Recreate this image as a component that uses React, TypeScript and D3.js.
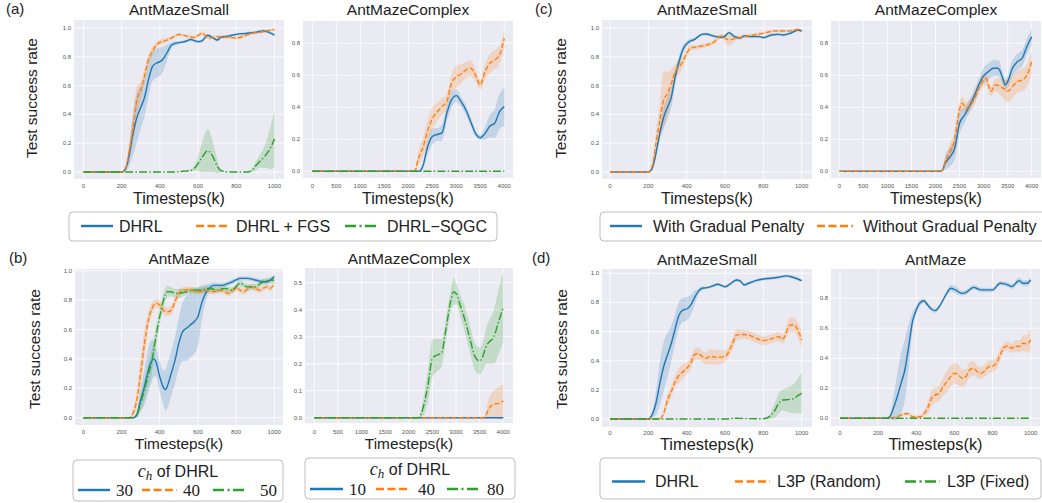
import React from "react";
import * as d3 from "d3";

type Pt = [number, number, number]; // [timestep, mean, spread]

const BLUE = "#1f77b4";
const ORANGE = "#ff7f0e";
const GREEN = "#2ca02c";
const FONT = "'Liberation Sans', Arial, sans-serif";
const SERIF = "'Liberation Serif', 'Times New Roman', serif";

const DASHED = "5,2.2";
const DASHDOT = "8,2.2,1.5,2.2";

const ticks1k = [0, 200, 400, 600, 800, 1000];
const ticks4k = [0, 500, 1000, 1500, 2000, 2500, 3000, 3500, 4000];
const yTicks10 = [0, 0.2, 0.4, 0.6, 0.8, 1.0];
const yTicks08 = [0, 0.2, 0.4, 0.6, 0.8];
const yTicks05 = [0, 0.1, 0.2, 0.3, 0.4, 0.5];

// (a) AntMazeSmall
const a1Dhrl: Pt[] = [[0,0,0],[200,0,0],[210,0.005,0.005],[230,0.06,0.04],[260,0.27,0.15],[280,0.38,0.17],[300,0.45,0.15],[320,0.52,0.13],[340,0.64,0.12],[360,0.73,0.1],[380,0.755,0.1],[400,0.766,0.1],[420,0.79,0.08],[440,0.835,0.05],[460,0.88,0.02],[480,0.893,0.015],[500,0.898,0.01],[540,0.91,0.01],[560,0.92,0.01],[600,0.905,0.01],[620,0.91,0.01],[650,0.95,0.01],[680,0.93,0.01],[700,0.917,0.01],[720,0.935,0.01],[760,0.944,0.01],[800,0.956,0.01],[850,0.963,0.01],[900,0.97,0.01],[940,0.98,0.01],[970,0.97,0.01],[1000,0.951,0.01]];
const a1Fgs: Pt[] = [[0,0,0],[200,0,0],[220,0.02,0.02],[240,0.15,0.06],[260,0.31,0.1],[280,0.5,0.1],[300,0.57,0.06],[320,0.67,0.05],[340,0.78,0.04],[360,0.835,0.03],[380,0.88,0.02],[400,0.9,0.02],[440,0.917,0.015],[480,0.944,0.01],[500,0.956,0.01],[540,0.944,0.01],[580,0.935,0.01],[620,0.963,0.015],[660,0.93,0.01],[700,0.94,0.01],[760,0.935,0.01],[800,0.93,0.01],[840,0.944,0.01],[880,0.963,0.01],[920,0.97,0.01],[960,0.98,0.01],[1000,0.99,0.01]];
const a1Sqgc: Pt[] = [[0,0,0],[480,0,0],[520,0.005,0.003],[560,0.01,0.005],[590,0.04,0.03],[620,0.1,0.1],[650,0.148,0.15],[680,0.1,0.1],[700,0.04,0.05],[720,0.01,0.01],[760,0,0],[860,0,0],[880,0.01,0.01],[900,0.04,0.03],[920,0.07,0.04],[950,0.11,0.08],[980,0.17,0.15],[1000,0.23,0.2]];

// (a) AntMazeComplex
const a2Dhrl: Pt[] = [[0,0,0],[2200,0,0],[2250,0.005,0.005],[2300,0.03,0.02],[2400,0.15,0.05],[2500,0.217,0.05],[2600,0.23,0.04],[2700,0.24,0.05],[2800,0.36,0.05],[2900,0.446,0.05],[3000,0.473,0.04],[3100,0.435,0.03],[3200,0.383,0.03],[3300,0.31,0.03],[3400,0.237,0.02],[3500,0.21,0.015],[3600,0.237,0.04],[3700,0.283,0.07],[3800,0.3,0.09],[3900,0.373,0.11],[4000,0.404,0.12]];
const a2Fgs: Pt[] = [[0,0,0],[2100,0,0],[2150,0.01,0.01],[2200,0.07,0.04],[2300,0.144,0.06],[2400,0.248,0.07],[2500,0.33,0.07],[2600,0.37,0.06],[2700,0.404,0.05],[2800,0.435,0.05],[2900,0.55,0.06],[3000,0.59,0.07],[3100,0.608,0.06],[3200,0.633,0.05],[3300,0.644,0.05],[3400,0.6,0.04],[3500,0.54,0.03],[3600,0.625,0.05],[3700,0.675,0.06],[3800,0.696,0.06],[3900,0.727,0.06],[4000,0.83,0.06]];
const a2Sqgc: Pt[] = [[0,0,0],[4000,0,0]];

// (b) AntMaze, c_h
const b1C30: Pt[] = [[0,0,0],[260,0,0],[280,0.02,0.02],[300,0.12,0.08],[320,0.21,0.12],[340,0.32,0.15],[360,0.39,0.14],[370,0.4,0.12],[380,0.38,0.1],[400,0.28,0.1],[420,0.204,0.12],[430,0.19,0.14],[440,0.215,0.15],[460,0.3,0.15],[480,0.39,0.16],[500,0.506,0.17],[520,0.585,0.2],[540,0.608,0.22],[560,0.63,0.22],[580,0.653,0.22],[600,0.687,0.2],[620,0.78,0.12],[640,0.846,0.06],[660,0.88,0.03],[680,0.9,0.02],[720,0.9,0.015],[760,0.914,0.015],[800,0.937,0.015],[820,0.948,0.015],[860,0.948,0.015],[900,0.937,0.015],[940,0.925,0.015],[960,0.925,0.015],[1000,0.96,0.015]];
const b1C40: Pt[] = [[0,0,0],[240,0,0],[260,0.03,0.02],[280,0.12,0.06],[300,0.3,0.1],[320,0.5,0.1],[340,0.66,0.06],[360,0.744,0.04],[380,0.778,0.03],[400,0.766,0.03],[420,0.73,0.03],[440,0.72,0.03],[460,0.73,0.03],[480,0.79,0.03],[500,0.846,0.03],[520,0.868,0.02],[560,0.873,0.02],[600,0.857,0.02],[640,0.868,0.02],[680,0.857,0.02],[720,0.868,0.02],[760,0.846,0.02],[800,0.88,0.02],[840,0.857,0.02],[880,0.89,0.02],[920,0.868,0.02],[960,0.89,0.02],[980,0.88,0.02],[1000,0.914,0.02]];
const b1C50: Pt[] = [[0,0,0],[260,0,0],[280,0.02,0.02],[300,0.1,0.05],[320,0.19,0.07],[340,0.29,0.08],[360,0.39,0.08],[380,0.55,0.07],[400,0.687,0.06],[420,0.8,0.05],[440,0.857,0.04],[460,0.857,0.03],[480,0.846,0.03],[500,0.846,0.03],[540,0.857,0.02],[580,0.868,0.02],[620,0.868,0.02],[660,0.88,0.02],[700,0.868,0.02],[740,0.88,0.02],[780,0.868,0.02],[820,0.914,0.02],[860,0.89,0.02],[900,0.89,0.02],[940,0.925,0.02],[1000,0.937,0.02]];

// (b) AntMazeComplex, c_h
const b2C10: Pt[] = [[0,0,0],[4000,0,0]];
const b2C40: Pt[] = [[0,0,0],[3550,0,0],[3600,0.002,0.002],[3650,0.016,0.02],[3700,0.035,0.04],[3800,0.05,0.05],[3900,0.053,0.06],[4000,0.062,0.062]];
const b2C80: Pt[] = [[0,0,0],[2200,0,0],[2250,0.01,0.01],[2300,0.035,0.03],[2400,0.115,0.06],[2500,0.22,0.07],[2600,0.232,0.06],[2700,0.24,0.05],[2750,0.288,0.04],[2800,0.343,0.04],[2900,0.442,0.04],[2950,0.467,0.05],[3000,0.46,0.04],[3100,0.41,0.04],[3200,0.355,0.05],[3300,0.288,0.05],[3400,0.226,0.05],[3500,0.21,0.05],[3550,0.22,0.05],[3650,0.27,0.07],[3700,0.28,0.08],[3800,0.3,0.1],[3900,0.355,0.12],[4000,0.41,0.13]];

// (c) gradual penalty
const c1With: Pt[] = [[0,0,0],[200,0,0],[220,0.025,0.01],[240,0.13,0.03],[260,0.27,0.05],[280,0.38,0.07],[300,0.45,0.08],[320,0.52,0.07],[340,0.66,0.05],[360,0.766,0.04],[380,0.85,0.03],[400,0.89,0.02],[420,0.91,0.015],[440,0.92,0.01],[460,0.94,0.01],[480,0.956,0.01],[500,0.958,0.01],[540,0.944,0.01],[580,0.935,0.01],[600,0.944,0.01],[620,0.968,0.01],[650,0.94,0.01],[680,0.93,0.01],[700,0.944,0.01],[740,0.94,0.01],[780,0.94,0.01],[800,0.933,0.01],[840,0.951,0.01],[880,0.956,0.01],[900,0.951,0.01],[940,0.963,0.01],[980,0.986,0.01],[1000,0.98,0.01]];
const c1Without: Pt[] = [[0,0,0],[200,0,0],[220,0.04,0.02],[240,0.2,0.08],[260,0.36,0.12],[280,0.5,0.2],[300,0.546,0.15],[320,0.616,0.1],[340,0.697,0.05],[360,0.73,0.05],[380,0.766,0.04],[400,0.824,0.03],[420,0.86,0.02],[460,0.87,0.015],[500,0.88,0.015],[540,0.9,0.015],[580,0.944,0.015],[620,0.917,0.04],[660,0.93,0.015],[700,0.94,0.01],[740,0.95,0.01],[780,0.958,0.01],[820,0.97,0.01],[860,0.98,0.01],[900,0.979,0.01],[940,0.98,0.01],[980,0.99,0.01],[1000,0.975,0.01]];
const c2With: Pt[] = [[0,0,0],[2100,0,0],[2150,0.01,0.01],[2200,0.05,0.04],[2300,0.09,0.06],[2400,0.144,0.07],[2500,0.3,0.07],[2600,0.35,0.05],[2700,0.404,0.04],[2800,0.467,0.04],[2900,0.54,0.04],[3000,0.596,0.05],[3100,0.623,0.05],[3200,0.644,0.05],[3300,0.644,0.05],[3400,0.58,0.04],[3450,0.54,0.03],[3500,0.56,0.04],[3600,0.644,0.05],[3700,0.685,0.05],[3800,0.706,0.05],[3900,0.78,0.05],[4000,0.84,0.05]];
const c2Without: Pt[] = [[0,0,0],[2100,0,0],[2150,0.01,0.01],[2200,0.06,0.03],[2300,0.12,0.05],[2400,0.2,0.06],[2450,0.3,0.06],[2550,0.425,0.04],[2650,0.394,0.04],[2700,0.41,0.04],[2800,0.446,0.04],[2900,0.52,0.04],[3000,0.57,0.04],[3050,0.58,0.04],[3150,0.5,0.03],[3250,0.54,0.04],[3400,0.52,0.06],[3500,0.5,0.07],[3600,0.53,0.07],[3700,0.56,0.07],[3800,0.57,0.07],[3900,0.6,0.07],[4000,0.685,0.07]];

// (d) L3P comparison
const d1Dhrl: Pt[] = [[0,0,0],[200,0,0],[220,0.03,0.02],[240,0.11,0.08],[260,0.245,0.15],[280,0.36,0.17],[300,0.44,0.15],[320,0.52,0.12],[340,0.62,0.1],[360,0.714,0.09],[380,0.748,0.08],[400,0.755,0.08],[420,0.78,0.07],[440,0.83,0.05],[460,0.874,0.02],[480,0.897,0.015],[500,0.9,0.01],[540,0.915,0.01],[560,0.925,0.01],[600,0.908,0.01],[620,0.92,0.01],[660,0.954,0.01],[680,0.947,0.01],[700,0.92,0.01],[720,0.93,0.01],[760,0.95,0.01],[800,0.961,0.01],[840,0.966,0.01],[880,0.973,0.01],[920,0.982,0.01],[940,0.978,0.01],[980,0.961,0.01],[1000,0.95,0.01]];
const d1Random: Pt[] = [[0,0,0],[260,0,0],[280,0.04,0.02],[300,0.13,0.04],[320,0.19,0.04],[340,0.256,0.04],[360,0.3,0.05],[380,0.325,0.05],[400,0.348,0.04],[420,0.38,0.04],[440,0.44,0.04],[460,0.45,0.04],[480,0.43,0.04],[500,0.416,0.04],[520,0.43,0.05],[560,0.423,0.05],[600,0.43,0.04],[640,0.52,0.04],[660,0.577,0.04],[700,0.58,0.03],[720,0.577,0.03],[760,0.555,0.03],[800,0.538,0.03],[820,0.542,0.03],[860,0.558,0.03],[880,0.565,0.03],[900,0.547,0.03],[940,0.645,0.05],[960,0.645,0.05],[980,0.61,0.05],[1000,0.542,0.06]];
const d1Fixed: Pt[] = [[0,0,0],[600,0,0],[650,0.005,0.004],[700,0.003,0.003],[800,0.002,0.002],[830,0.015,0.015],[860,0.06,0.05],[880,0.107,0.07],[900,0.13,0.07],[940,0.135,0.09],[960,0.142,0.1],[980,0.16,0.12],[1000,0.176,0.14]];
const d2Dhrl: Pt[] = [[0,0,0],[240,0,0],[260,0.01,0.01],[280,0.067,0.08],[300,0.144,0.15],[320,0.233,0.2],[340,0.322,0.2],[360,0.478,0.15],[380,0.644,0.06],[400,0.722,0.03],[420,0.77,0.02],[440,0.784,0.015],[460,0.755,0.015],[480,0.727,0.015],[500,0.718,0.015],[520,0.744,0.015],[560,0.833,0.015],[580,0.867,0.02],[600,0.86,0.025],[640,0.833,0.015],[660,0.838,0.015],[700,0.873,0.015],[740,0.856,0.015],[800,0.856,0.015],[840,0.9,0.015],[880,0.89,0.015],[900,0.878,0.015],[940,0.918,0.02],[960,0.9,0.02],[980,0.9,0.02],[1000,0.922,0.02]];
const d2Random: Pt[] = [[0,0,0],[240,0,0],[300,0.01,0.005],[340,0.03,0.01],[360,0.03,0.01],[380,0.01,0.01],[420,0.01,0.01],[440,0.03,0.02],[460,0.067,0.04],[480,0.133,0.05],[500,0.156,0.05],[520,0.167,0.05],[540,0.21,0.06],[560,0.244,0.07],[580,0.278,0.07],[600,0.3,0.07],[620,0.29,0.07],[640,0.267,0.06],[660,0.278,0.05],[680,0.322,0.05],[700,0.333,0.05],[720,0.311,0.04],[740,0.3,0.04],[760,0.318,0.04],[780,0.344,0.04],[800,0.349,0.04],[820,0.367,0.04],[840,0.422,0.04],[860,0.473,0.03],[880,0.482,0.03],[900,0.467,0.03],[920,0.482,0.04],[940,0.478,0.04],[960,0.5,0.05],[980,0.496,0.06],[1000,0.522,0.07]];
const d2Fixed: Pt[] = [[0,0,0],[1000,0,0]];

type Series = { data: Pt[]; color: string; dash?: string };
type PanelCfg = {
  title: string;
  rect: [number, number, number, number];
  xMax: number;
  xPx: [number, number];
  yRef: number;
  yPx: [number, number];
  xTicks: number[];
  yTicks: number[];
  series: Series[];
  titleY: number;
  tickY: number;
  xLabelY: number;
  xLabelSize: number;
};

const trio = (s1: Pt[], s2: Pt[], s3?: Pt[]): Series[] => {
  const out: Series[] = [
    { data: s1, color: BLUE },
    { data: s2, color: ORANGE, dash: DASHED },
  ];
  if (s3) out.push({ data: s3, color: GREEN, dash: DASHDOT });
  return out;
};

const panels: PanelCfg[] = [
  { title: "AntMazeSmall", rect: [74, 20, 284, 179], xMax: 1000, xPx: [83.5, 274.5], yRef: 1, yPx: [172, 28], xTicks: ticks1k, yTicks: yTicks10, series: trio(a1Dhrl, a1Fgs, a1Sqgc), titleY: 15, tickY: 187.5, xLabelY: 204, xLabelSize: 16 },
  { title: "AntMazeComplex", rect: [303, 21, 513, 178], xMax: 4000, xPx: [312.3, 504.3], yRef: 0.8, yPx: [171.3, 43.3], xTicks: ticks4k, yTicks: yTicks08, series: trio(a2Dhrl, a2Fgs, a2Sqgc), titleY: 15, tickY: 187.5, xLabelY: 204, xLabelSize: 16 },
  { title: "AntMazeSmall", rect: [602, 20, 812, 179], xMax: 1000, xPx: [610, 801.7], yRef: 1, yPx: [172, 28], xTicks: ticks1k, yTicks: yTicks10, series: trio(c1With, c1Without), titleY: 15, tickY: 187.5, xLabelY: 204, xLabelSize: 16 },
  { title: "AntMazeComplex", rect: [831, 21, 1041, 178], xMax: 4000, xPx: [839.3, 1031.7], yRef: 0.8, yPx: [171.3, 43.3], xTicks: ticks4k, yTicks: yTicks08, series: trio(c2With, c2Without), titleY: 15, tickY: 187.5, xLabelY: 204, xLabelSize: 16 },
  { title: "AntMaze", rect: [75, 269, 283, 425], xMax: 1000, xPx: [83.3, 274.3], yRef: 1, yPx: [417.7, 270.7], xTicks: ticks1k, yTicks: yTicks10, series: trio(b1C30, b1C40, b1C50), titleY: 264, tickY: 434, xLabelY: 449, xLabelSize: 15.4 },
  { title: "AntMazeComplex", rect: [305, 268, 513, 423], xMax: 4000, xPx: [314.3, 503.3], yRef: 0.5, yPx: [417.7, 282.7], xTicks: ticks4k, yTicks: yTicks05, series: trio(b2C10, b2C40, b2C80), titleY: 264, tickY: 434, xLabelY: 449, xLabelSize: 15.4 },
  { title: "AntMazeSmall", rect: [602, 269, 812, 427], xMax: 1000, xPx: [610, 801.7], yRef: 1, yPx: [419, 273.3], xTicks: ticks1k, yTicks: yTicks10, series: trio(d1Dhrl, d1Random, d1Fixed), titleY: 265, tickY: 435, xLabelY: 450, xLabelSize: 16.4 },
  { title: "AntMaze", rect: [831, 269, 1040, 426], xMax: 1000, xPx: [840, 1030.7], yRef: 0.8, yPx: [418.3, 298.3], xTicks: ticks1k, yTicks: yTicks08, series: trio(d2Dhrl, d2Random, d2Fixed), titleY: 265, tickY: 435, xLabelY: 450, xLabelSize: 16.4 },
];

function Panel({ cfg, idx }: { cfg: PanelCfg; idx: number }) {
  const [l, t, r, b] = cfg.rect;
  const x = d3.scaleLinear().domain([0, cfg.xMax]).range(cfg.xPx);
  const y = d3.scaleLinear().domain([0, cfg.yRef]).range(cfg.yPx);
  const line = d3.line<Pt>().x(d => x(d[0])).y(d => y(d[1])).curve(d3.curveMonotoneX);
  const band = d3.area<Pt>()
    .x(d => x(d[0]))
    .y0(d => y(d[1] - d[2]))
    .y1(d => y(d[1] + d[2]))
    .curve(d3.curveMonotoneX);
  const fmt = d3.format(".1f");
  const clip = "clip" + idx;
  return (
    <g>
      <defs>
        <clipPath id={clip}>
          <rect x={l} y={t} width={r - l} height={b - t} />
        </clipPath>
      </defs>
      <rect x={l} y={t} width={r - l} height={b - t} fill="#eaeaf2" />
      {cfg.xTicks.map(v => (
        <line key={"gx" + v} x1={x(v)} x2={x(v)} y1={t} y2={b} stroke="#fff" strokeWidth={0.8} />
      ))}
      {cfg.yTicks.map(v => (
        <line key={"gy" + v} x1={l} x2={r} y1={y(v)} y2={y(v)} stroke="#fff" strokeWidth={0.8} />
      ))}
      <g clipPath={`url(#${clip})`}>
        {cfg.series.map((s, i) => (
          <path key={"b" + i} d={band(s.data) || ""} fill={s.color} fillOpacity={0.2} />
        ))}
        {cfg.series.map((s, i) => (
          <path key={"l" + i} d={line(s.data) || ""} fill="none" stroke={s.color}
            strokeWidth={1.4} strokeDasharray={s.dash} />
        ))}
      </g>
      {cfg.xTicks.map(v => (
        <text key={"tx" + v} x={x(v)} y={cfg.tickY} fontSize={6} fill="#555" textAnchor="middle" fontFamily={FONT}>{v}</text>
      ))}
      {cfg.yTicks.map(v => (
        <text key={"ty" + v} x={l - 3} y={y(v) + 2} fontSize={6} fill="#555" textAnchor="end" fontFamily={FONT}>{fmt(v)}</text>
      ))}
      <text x={(l + r) / 2} y={cfg.titleY} fontSize={15.5} textAnchor="middle" fill="#222" fontFamily={FONT}>{cfg.title}</text>
      <text x={(l + r) / 2} y={cfg.xLabelY} fontSize={cfg.xLabelSize} textAnchor="middle" fill="#222" fontFamily={FONT}>Timesteps(k)</text>
    </g>
  );
}

type LegItem = { label: string; color: string; dash?: string; x1: number; x2: number; tx: number };

function LegendBox({ box, items, lineY, textY, size, serif }: {
  box: [number, number, number, number]; items: LegItem[]; lineY: number; textY: number; size: number; serif?: boolean;
}) {
  const [l, t, r, b] = box;
  return (
    <g>
      <rect x={l} y={t} width={r - l} height={b - t} rx={4} fill="#fff" stroke="#bdbdbd" strokeWidth={1} />
      {items.map(it => (
        <g key={it.label}>
          <line x1={it.x1} x2={it.x2} y1={lineY} y2={lineY} stroke={it.color} strokeWidth={2.4}
            strokeDasharray={it.dash === DASHED ? "8,3.5" : it.dash === DASHDOT ? "11,3.5,2,3.5" : undefined} />
          <text x={it.tx} y={textY} fontSize={size} fill="#222" fontFamily={serif ? SERIF : FONT}>{it.label}</text>
        </g>
      ))}
    </g>
  );
}

function ChTitle({ cx, y }: { cx: number; y: number }) {
  return (
    <text x={cx} y={y} fontSize={16} textAnchor="middle" fill="#222" fontFamily={FONT}>
      <tspan fontFamily={SERIF} fontStyle="italic" fontSize={18}>c</tspan>
      <tspan fontFamily={SERIF} fontStyle="italic" fontSize={13} dy={3}>h</tspan>
      <tspan dy={-3}> of DHRL</tspan>
    </text>
  );
}

export default function App() {
  return (
    <svg width={1042} height={503} style={{ position: "absolute", left: 0, top: 0, background: "#fff" }}>
      {panels.map((p, i) => <Panel key={i} cfg={p} idx={i} />)}

      <text x={6} y={14} fontSize={15} fill="#222" fontFamily={FONT}>(a)</text>
      <text x={9} y={263} fontSize={15} fill="#222" fontFamily={FONT}>(b)</text>
      <text x={535} y={14} fontSize={15} fill="#222" fontFamily={FONT}>(c)</text>
      <text x={532} y={263} fontSize={15} fill="#222" fontFamily={FONT}>(d)</text>

      <text transform="translate(37,98) rotate(-90)" fontSize={15.5} textAnchor="middle" fill="#222" fontFamily={FONT}>Test success rate</text>
      <text transform="translate(40,349) rotate(-90)" fontSize={15.5} textAnchor="middle" fill="#222" fontFamily={FONT}>Test success rate</text>
      <text transform="translate(565.5,98) rotate(-90)" fontSize={15.5} textAnchor="middle" fill="#222" fontFamily={FONT}>Test success rate</text>
      <text transform="translate(566.5,349) rotate(-90)" fontSize={15.5} textAnchor="middle" fill="#222" fontFamily={FONT}>Test success rate</text>

      <LegendBox box={[69, 212, 497, 241]} lineY={226} textY={231.5} size={16}
        items={[
          { label: "DHRL", color: BLUE, x1: 81, x2: 113, tx: 119 },
          { label: "DHRL + FGS", color: ORANGE, dash: DASHED, x1: 196, x2: 229, tx: 236 },
          { label: "DHRL\u2212SQGC", color: GREEN, dash: DASHDOT, x1: 345, x2: 378, tx: 387 },
        ]} />
      <LegendBox box={[600, 212, 1046, 241]} lineY={226} textY={231.5} size={16}
        items={[
          { label: "With Gradual Penalty", color: BLUE, x1: 610, x2: 642, tx: 653 },
          { label: "Without Gradual Penalty", color: ORANGE, dash: DASHED, x1: 817, x2: 853, tx: 863 },
        ]} />
      <LegendBox box={[600, 458, 1041, 499]} lineY={481.5} textY={487} size={16}
        items={[
          { label: "DHRL", color: BLUE, x1: 612, x2: 645, tx: 655 },
          { label: "L3P (Random)", color: ORANGE, dash: DASHED, x1: 735, x2: 770, tx: 777 },
          { label: "L3P (Fixed)", color: GREEN, dash: DASHDOT, x1: 905, x2: 940, tx: 947 },
        ]} />

      <LegendBox box={[73, 460, 283, 501]} lineY={490} textY={496} size={17} serif
        items={[
          { label: "30", color: BLUE, x1: 78, x2: 110, tx: 116 },
          { label: "40", color: ORANGE, dash: DASHED, x1: 142, x2: 177, tx: 183 },
          { label: "50", color: GREEN, dash: DASHDOT, x1: 213, x2: 247, tx: 260 },
        ]} />
      <ChTitle cx={178} y={477} />
      <LegendBox box={[305, 458, 515, 499]} lineY={489} textY={495} size={17} serif
        items={[
          { label: "10", color: BLUE, x1: 310, x2: 343, tx: 349 },
          { label: "40", color: ORANGE, dash: DASHED, x1: 376, x2: 410, tx: 418 },
          { label: "80", color: GREEN, dash: DASHDOT, x1: 447, x2: 480, tx: 487 },
        ]} />
      <ChTitle cx={410} y={475} />
    </svg>
  );
}
